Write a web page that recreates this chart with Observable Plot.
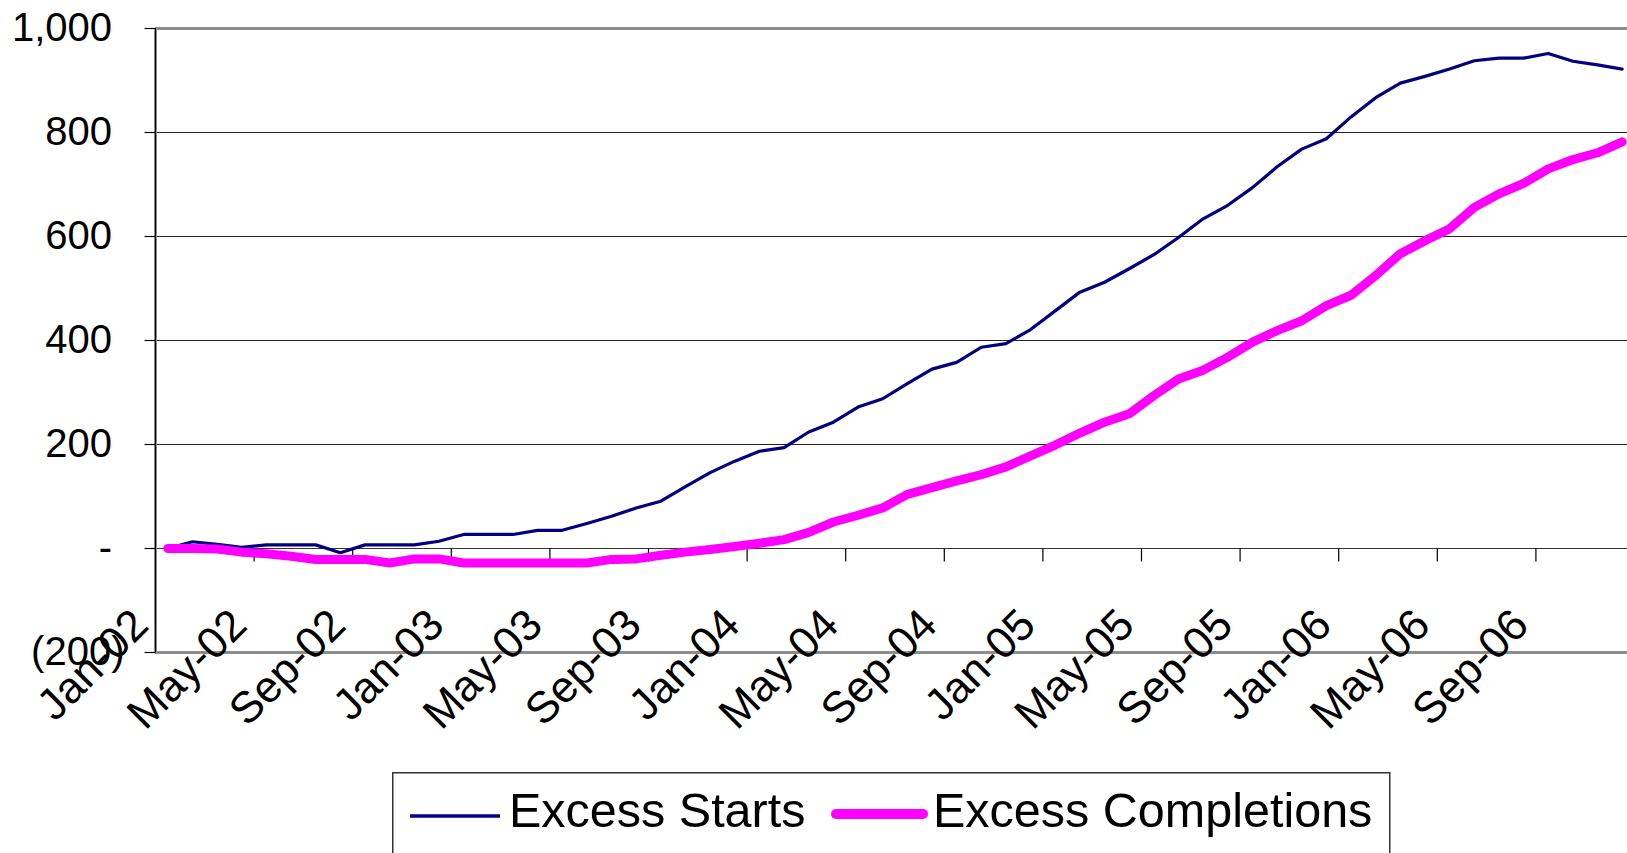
<!DOCTYPE html>
<html><head><meta charset="utf-8">
<script src="https://cdn.jsdelivr.net/npm/d3@7"></script>
<script src="https://cdn.jsdelivr.net/npm/@observablehq/plot@0.6"></script>
<style>
html,body{margin:0;padding:0;background:#fff;overflow:hidden;}
#wrap{position:relative;width:1627px;height:853px;overflow:hidden;}
#wrap svg{display:block;}
#legend{position:absolute;left:0;top:772px;}
</style></head><body><div id="wrap"></div>
<script>
const months = ["Jan-02","Feb-02","Mar-02","Apr-02","May-02","Jun-02","Jul-02","Aug-02","Sep-02","Oct-02","Nov-02","Dec-02",
"Jan-03","Feb-03","Mar-03","Apr-03","May-03","Jun-03","Jul-03","Aug-03","Sep-03","Oct-03","Nov-03","Dec-03",
"Jan-04","Feb-04","Mar-04","Apr-04","May-04","Jun-04","Jul-04","Aug-04","Sep-04","Oct-04","Nov-04","Dec-04",
"Jan-05","Feb-05","Mar-05","Apr-05","May-05","Jun-05","Jul-05","Aug-05","Sep-05","Oct-05","Nov-05","Dec-05",
"Jan-06","Feb-06","Mar-06","Apr-06","May-06","Jun-06","Jul-06","Aug-06","Sep-06","Oct-06","Nov-06","Dec-06"];
const excessStarts = [0,13,8,2,7,7,7,-8,7,7, 7,14,27,27,27,35,35,48,62,78, 91,119,146,168,187,194,224,243,272,288,
 317,345,358,387,394,421,457,493,512,538, 565,598,634,660,694,734,768,788,830,867, 895,908,922,938,943,943,952,937,930,922];
const excessCompletions = [0,0,-1,-7,-10,-15,-21,-21,-21,-28, -20,-20,-28,-28,-28,-28,-28,-28,-21,-20, -13,-7,-2,4,10,17,31,51,64,78,
 104,117,130,142,157,178,199,222,243,259, 294,326,343,368,397,419,438,467,487,525, 567,592,615,656,682,702,730,748,761,782];
const yTicks = [-200,0,200,400,600,800,1000];
const yTickLabels = ["(200)","-","200","400","600","800","1,000"];
const xTickEvery = 4;
const seriesNames = ["Excess Starts","Excess Completions"];
const seriesColors = ["#000080","#FF00FF"];

const font = "'Liberation Sans', Arial, Helvetica, sans-serif";
const rows = months.map((m,i)=>({pos:i+0.5, month:m, starts:excessStarts[i], completions:excessCompletions[i]}));
const bounds = months.map((m,i)=>({k:i, label:m})).filter(d=>d.k % xTickEvery === 0);
const yT = yTicks.map((v,i)=>({v, label:yTickLabels[i]}));
const grid = yTicks.filter(v=>v!==0 && v!==yTicks[0] && v!==yTicks[yTicks.length-1]);
const yMin = yTicks[0], yMax = yTicks[yTicks.length-1];

const vTick = {draw(ctx){ctx.moveTo(0,0);ctx.lineTo(0,13);}};
const hTick = {draw(ctx){ctx.moveTo(0,0);ctx.lineTo(-11,0);}};

const chart = Plot.plot({
  width:1627, height:772,
  marginLeft:155, marginRight:-7, marginTop:28, marginBottom:120,
  x:{domain:[0, months.length], axis:null},
  y:{domain:[yMin, yMax], axis:null},
  style:{fontFamily:font, background:"transparent"},
  marks:[
    Plot.ruleY(grid, {stroke:"#222", strokeWidth:1}),
    Plot.ruleY([yMax, yMin], {stroke:"#8c8c8c", strokeWidth:3}),
    Plot.ruleY([0], {stroke:"#333", strokeWidth:1}),
    Plot.ruleX([0], {stroke:"#8c8c8c", strokeWidth:3}),
    Plot.ruleX([0], {stroke:"#000", strokeWidth:1}),
    Plot.dot(bounds.filter(d=>d.k>0), {x:"k", y:()=>0, symbol:vTick, fill:"none", stroke:"#000", strokeWidth:1.2}),
    Plot.dot(yT, {x:()=>0, y:"v", symbol:hTick, fill:"none", stroke:"#000", strokeWidth:1.2}),
    Plot.line(rows, {x:"pos", y:"starts", stroke:seriesColors[0], strokeWidth:3.2, strokeLinejoin:"round", strokeLinecap:"round"}),
    Plot.line(rows, {x:"pos", y:"completions", stroke:seriesColors[1], strokeWidth:9, strokeLinejoin:"round", strokeLinecap:"round"}),
    Plot.text(yT.filter(d=>d.v>=0), {y:"v", frameAnchor:"left", text:"label", textAnchor:"end", lineAnchor:"middle", dx:-43.5, fontSize:40, fill:"#000"}),
    Plot.text(yT.filter(d=>d.v<0), {y:"v", frameAnchor:"left", text:"label", textAnchor:"end", lineAnchor:"middle", dx:-31, fontSize:40, fill:"#000"}),
    Plot.text(bounds, {x:"k", frameAnchor:"bottom", text:"label", rotate:-45, textAnchor:"end", lineAnchor:"bottom", dx:-5, dy:-25, fontSize:44, fill:"#000"})
  ]
});
const wrap = document.getElementById("wrap");
wrap.appendChild(chart);

// Legend below the chart
const ns = "http://www.w3.org/2000/svg";
const lg = document.createElementNS(ns, "svg");
lg.setAttribute("id","legend");
lg.setAttribute("width","1627"); lg.setAttribute("height","81");
lg.innerHTML = `
<rect x="392.75" y="0.75" width="997" height="120" fill="#fff" stroke="#333" stroke-width="1.5"/>
<line x1="410" x2="500" y1="44" y2="44" stroke="${seriesColors[0]}" stroke-width="3.5"/>
<text x="509" y="55" font-family="${font}" font-size="48.5" fill="#000">${seriesNames[0]}</text>
<line x1="836" x2="923" y1="42" y2="42" stroke="${seriesColors[1]}" stroke-width="10" stroke-linecap="round"/>
<text x="933" y="55" font-family="${font}" font-size="48.5" fill="#000">${seriesNames[1]}</text>`;
wrap.appendChild(lg);
</script></body></html>
